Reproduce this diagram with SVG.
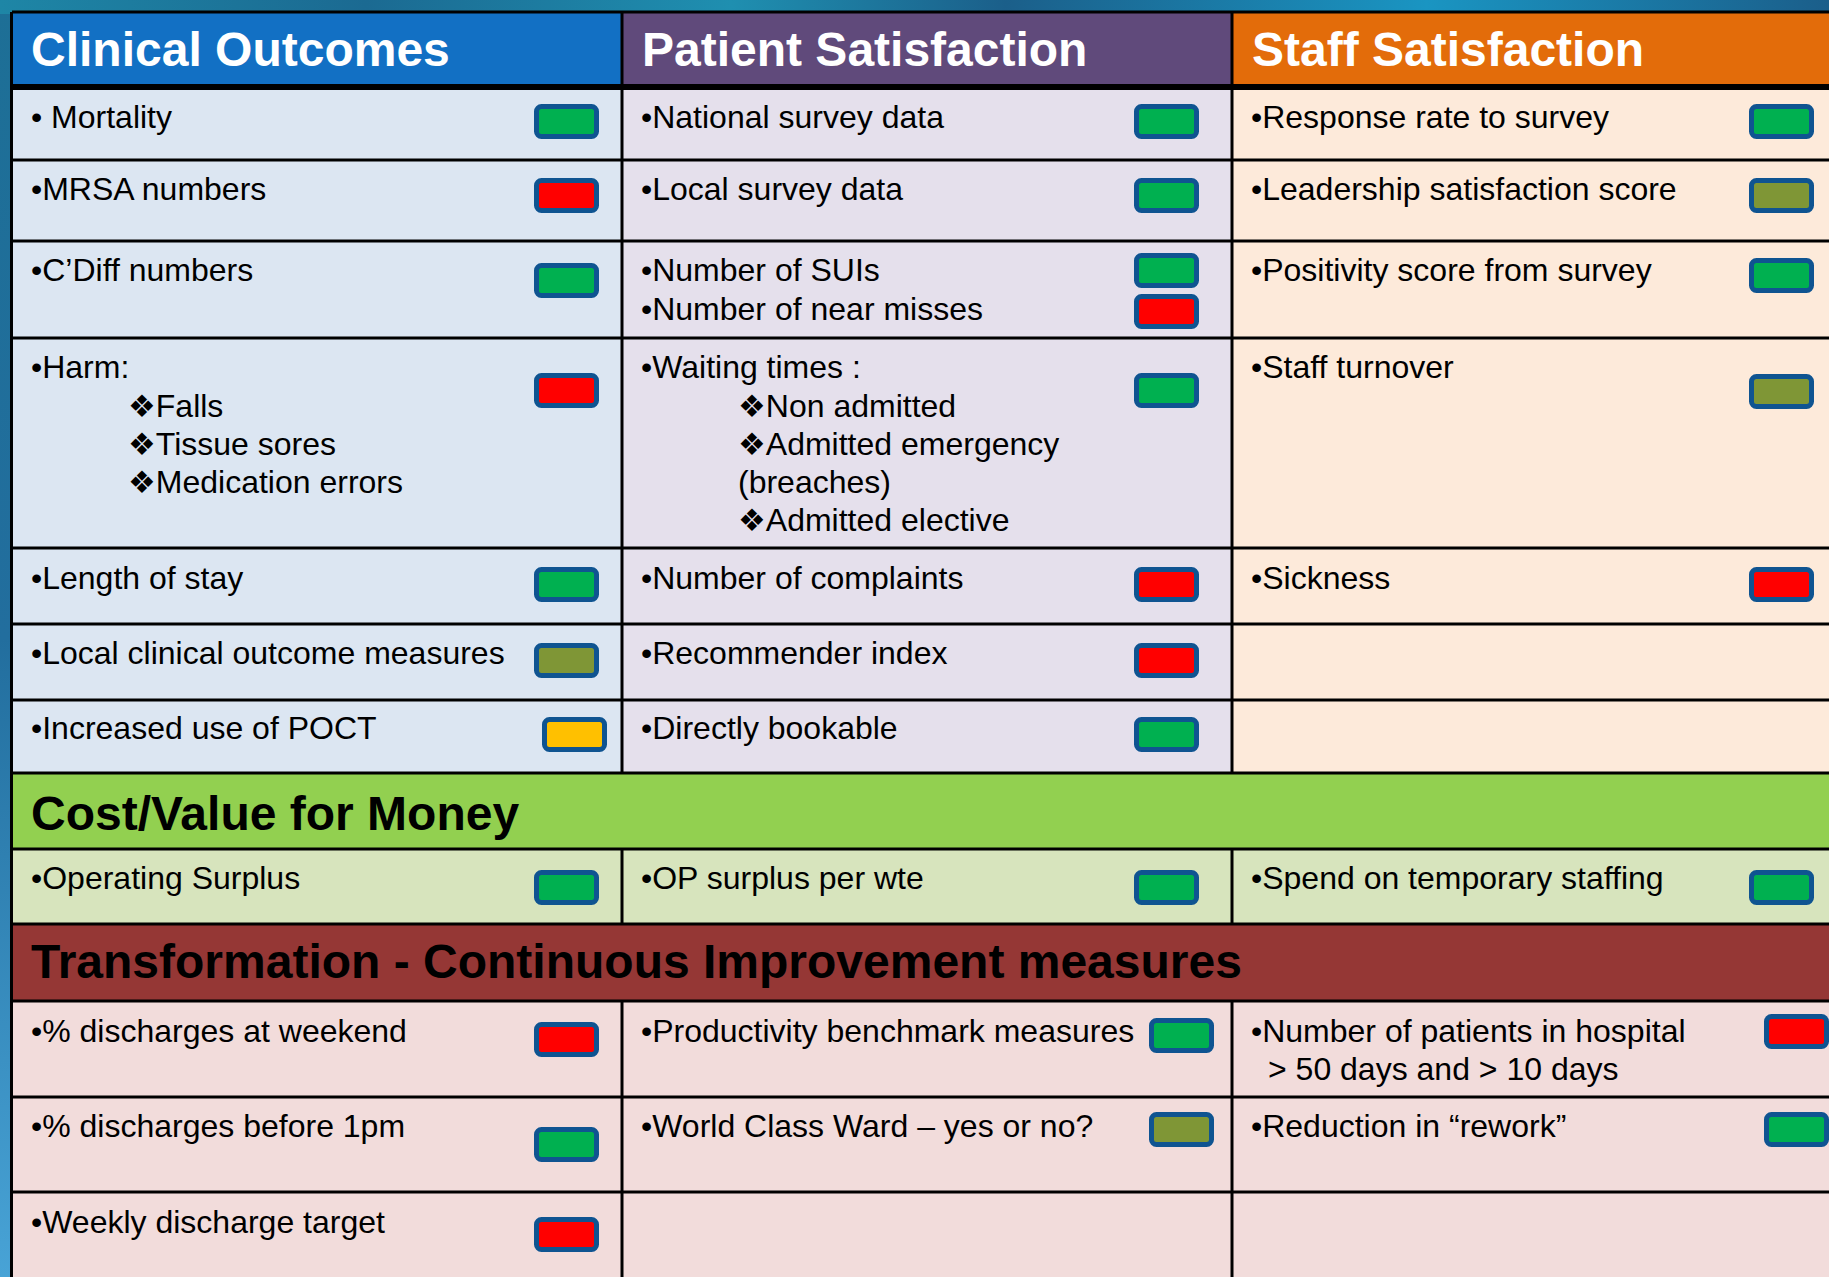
<svg xmlns="http://www.w3.org/2000/svg" width="1829" height="1277" viewBox="0 0 1829 1277">
  <defs>
    <linearGradient id="bgTop" x1="0" y1="0" x2="1" y2="0">
      <stop offset="0" stop-color="#1e86a6"/>
      <stop offset="0.2" stop-color="#1b6a92"/>
      <stop offset="0.4" stop-color="#1f8fb0"/>
      <stop offset="0.55" stop-color="#1b5f8a"/>
      <stop offset="0.78" stop-color="#1a95c2"/>
      <stop offset="1" stop-color="#1b5e8a"/>
    </linearGradient>
    <linearGradient id="bgLeft" x1="0" y1="0" x2="0" y2="1">
      <stop offset="0" stop-color="#1d6f96"/>
      <stop offset="0.5" stop-color="#226e9e"/>
      <stop offset="1" stop-color="#48a3d6"/>
    </linearGradient>
    <style>
      .t { font-family: "Liberation Sans", Arial, sans-serif; font-size: 32px; fill: #000; }
      .h { font-family: "Liberation Sans", Arial, sans-serif; font-size: 48px; font-weight: bold; }
      .hw { fill: #ffffff; }
      .hb { fill: #000000; }
      .sym { font-family: "DejaVu Sans", sans-serif; font-size: 31px; }
      .ind { stroke: #0F5491; stroke-width: 5; }
      .g { fill: #00B050; }
      .r { fill: #FF0000; }
      .o { fill: #7F9636; }
      .y { fill: #FFC000; }
      .c1 { fill: #DCE6F2; }
      .c2 { fill: #E5E0EC; }
      .c3 { fill: #FDEADA; }
      .cv { fill: #D7E4BD; }
      .tr { fill: #F2DCDB; }
      .ln { stroke: #000; stroke-width: 3; fill: none; }
    </style>
  </defs>

  <!-- background -->
  <rect x="0" y="0" width="1829" height="1277" fill="url(#bgLeft)"/>
  <rect x="0" y="0" width="1829" height="14" fill="url(#bgTop)"/>

  <!-- header row -->
  <g id="hdr-clinical">
    <rect x="12" y="12" width="610" height="75" fill="#1270C4"/>
    <text class="h hw" x="31" y="66">Clinical Outcomes</text>
  </g>
  <g id="hdr-patient">
    <rect x="622" y="12" width="610" height="75" fill="#604A7B"/>
    <text class="h hw" x="642" y="66">Patient Satisfaction</text>
  </g>
  <g id="hdr-staff">
    <rect x="1232" y="12" width="597" height="75" fill="#E36C0A"/>
    <text class="h hw" x="1252" y="66">Staff Satisfaction</text>
  </g>

  <!-- Clinical outcomes column -->
  <g id="c1r1">
    <rect class="c1" x="12" y="87" width="610" height="73"/>
    <text class="t" x="31" y="128">• Mortality</text>
    <rect class="ind g" x="536.5" y="106.5" width="60" height="30" rx="5"/>
  </g>
  <g id="c1r2">
    <rect class="c1" x="12" y="160" width="610" height="81"/>
    <text class="t" x="31" y="200">•MRSA numbers</text>
    <rect class="ind r" x="536.5" y="180.5" width="60" height="30" rx="5"/>
  </g>
  <g id="c1r3">
    <rect class="c1" x="12" y="241" width="610" height="97"/>
    <text class="t" x="31" y="281">•C’Diff numbers</text>
    <rect class="ind g" x="536.5" y="265.5" width="60" height="30" rx="5"/>
  </g>
  <g id="c1r4">
    <rect class="c1" x="12" y="338" width="610" height="210"/>
    <text class="t" x="31" y="378">•Harm:</text>
    <text class="t" x="128" y="417"><tspan class="sym">❖</tspan>Falls</text>
    <text class="t" x="128" y="455"><tspan class="sym">❖</tspan>Tissue sores</text>
    <text class="t" x="128" y="493"><tspan class="sym">❖</tspan>Medication errors</text>
    <rect class="ind r" x="536.5" y="375.5" width="60" height="30" rx="5"/>
  </g>
  <g id="c1r5">
    <rect class="c1" x="12" y="548" width="610" height="76"/>
    <text class="t" x="31" y="589">•Length of stay</text>
    <rect class="ind g" x="536.5" y="569.5" width="60" height="30" rx="5"/>
  </g>
  <g id="c1r6">
    <rect class="c1" x="12" y="624" width="610" height="76"/>
    <text class="t" x="31" y="664">•Local clinical outcome measures</text>
    <rect class="ind o" x="536.5" y="645.5" width="60" height="30" rx="5"/>
  </g>
  <g id="c1r7">
    <rect class="c1" x="12" y="700" width="610" height="73"/>
    <text class="t" x="31" y="739">•Increased use of POCT</text>
    <rect class="ind y" x="544.5" y="719.5" width="60" height="30" rx="5"/>
  </g>

  <!-- Patient satisfaction column -->
  <g id="c2r1">
    <rect class="c2" x="622" y="87" width="610" height="73"/>
    <text class="t" x="641" y="128">•National survey data</text>
    <rect class="ind g" x="1136.5" y="106.5" width="60" height="30" rx="5"/>
  </g>
  <g id="c2r2">
    <rect class="c2" x="622" y="160" width="610" height="81"/>
    <text class="t" x="641" y="200">•Local survey data</text>
    <rect class="ind g" x="1136.5" y="180.5" width="60" height="30" rx="5"/>
  </g>
  <g id="c2r3">
    <rect class="c2" x="622" y="241" width="610" height="97"/>
    <text class="t" x="641" y="281">•Number of SUIs</text>
    <text class="t" x="641" y="320">•Number of near misses</text>
    <rect class="ind g" x="1136.5" y="255.5" width="60" height="30" rx="5"/>
    <rect class="ind r" x="1136.5" y="296.5" width="60" height="30" rx="5"/>
  </g>
  <g id="c2r4">
    <rect class="c2" x="622" y="338" width="610" height="210"/>
    <text class="t" x="641" y="378">•Waiting times :</text>
    <text class="t" x="738" y="417"><tspan class="sym">❖</tspan>Non admitted</text>
    <text class="t" x="738" y="455"><tspan class="sym">❖</tspan>Admitted emergency</text>
    <text class="t" x="738" y="493">(breaches)</text>
    <text class="t" x="738" y="531"><tspan class="sym">❖</tspan>Admitted elective</text>
    <rect class="ind g" x="1136.5" y="375.5" width="60" height="30" rx="5"/>
  </g>
  <g id="c2r5">
    <rect class="c2" x="622" y="548" width="610" height="76"/>
    <text class="t" x="641" y="589">•Number of complaints</text>
    <rect class="ind r" x="1136.5" y="569.5" width="60" height="30" rx="5"/>
  </g>
  <g id="c2r6">
    <rect class="c2" x="622" y="624" width="610" height="76"/>
    <text class="t" x="641" y="664">•Recommender index</text>
    <rect class="ind r" x="1136.5" y="645.5" width="60" height="30" rx="5"/>
  </g>
  <g id="c2r7">
    <rect class="c2" x="622" y="700" width="610" height="73"/>
    <text class="t" x="641" y="739">•Directly bookable</text>
    <rect class="ind g" x="1136.5" y="719.5" width="60" height="30" rx="5"/>
  </g>

  <!-- Staff satisfaction column -->
  <g id="c3r1">
    <rect class="c3" x="1232" y="87" width="597" height="73"/>
    <text class="t" x="1251" y="128">•Response rate to survey</text>
    <rect class="ind g" x="1751.5" y="106.5" width="60" height="30" rx="5"/>
  </g>
  <g id="c3r2">
    <rect class="c3" x="1232" y="160" width="597" height="81"/>
    <text class="t" x="1251" y="200">•Leadership satisfaction score</text>
    <rect class="ind o" x="1751.5" y="180.5" width="60" height="30" rx="5"/>
  </g>
  <g id="c3r3">
    <rect class="c3" x="1232" y="241" width="597" height="97"/>
    <text class="t" x="1251" y="281">•Positivity score from survey</text>
    <rect class="ind g" x="1751.5" y="260.5" width="60" height="30" rx="5"/>
  </g>
  <g id="c3r4">
    <rect class="c3" x="1232" y="338" width="597" height="210"/>
    <text class="t" x="1251" y="378">•Staff turnover</text>
    <rect class="ind o" x="1751.5" y="376.5" width="60" height="30" rx="5"/>
  </g>
  <g id="c3r5">
    <rect class="c3" x="1232" y="548" width="597" height="76"/>
    <text class="t" x="1251" y="589">•Sickness</text>
    <rect class="ind r" x="1751.5" y="569.5" width="60" height="30" rx="5"/>
  </g>
  <g id="c3r6">
    <rect class="c3" x="1232" y="624" width="597" height="76"/>
  </g>
  <g id="c3r7">
    <rect class="c3" x="1232" y="700" width="597" height="73"/>
  </g>

  <!-- Cost / Value for Money -->
  <g id="hdr-cost">
    <rect x="12" y="773" width="1817" height="76" fill="#92D050"/>
    <text class="h hb" x="31" y="830">Cost/Value for Money</text>
  </g>
  <g id="cost1">
    <rect class="cv" x="12" y="849" width="610" height="75"/>
    <text class="t" x="31" y="889">•Operating Surplus</text>
    <rect class="ind g" x="536.5" y="872.5" width="60" height="30" rx="5"/>
  </g>
  <g id="cost2">
    <rect class="cv" x="622" y="849" width="610" height="75"/>
    <text class="t" x="641" y="889">•OP surplus per wte</text>
    <rect class="ind g" x="1136.5" y="872.5" width="60" height="30" rx="5"/>
  </g>
  <g id="cost3">
    <rect class="cv" x="1232" y="849" width="597" height="75"/>
    <text class="t" x="1251" y="889">•Spend on temporary staffing</text>
    <rect class="ind g" x="1751.5" y="872.5" width="60" height="30" rx="5"/>
  </g>

  <!-- Transformation -->
  <g id="hdr-transformation">
    <rect x="12" y="924" width="1817" height="77" fill="#953735"/>
    <text class="h hb" x="31" y="978">Transformation - Continuous Improvement measures</text>
  </g>
  <g id="t1c1">
    <rect class="tr" x="12" y="1001" width="610" height="96"/>
    <text class="t" x="31" y="1042">•% discharges at weekend</text>
    <rect class="ind r" x="536.5" y="1024.5" width="60" height="30" rx="5"/>
  </g>
  <g id="t1c2">
    <rect class="tr" x="622" y="1001" width="610" height="96"/>
    <text class="t" x="641" y="1042">•Productivity benchmark measures</text>
    <rect class="ind g" x="1151.5" y="1020.5" width="60" height="30" rx="5"/>
  </g>
  <g id="t1c3">
    <rect class="tr" x="1232" y="1001" width="597" height="96"/>
    <text class="t" x="1251" y="1042">•Number of patients in hospital</text>
    <text class="t" x="1268" y="1080">&gt; 50 days and &gt; 10 days</text>
    <rect class="ind r" x="1766.5" y="1016.5" width="60" height="30" rx="5"/>
  </g>
  <g id="t2c1">
    <rect class="tr" x="12" y="1097" width="610" height="95"/>
    <text class="t" x="31" y="1137">•% discharges before 1pm</text>
    <rect class="ind g" x="536.5" y="1129.5" width="60" height="30" rx="5"/>
  </g>
  <g id="t2c2">
    <rect class="tr" x="622" y="1097" width="610" height="95"/>
    <text class="t" x="641" y="1137">•World Class Ward – yes or no?</text>
    <rect class="ind o" x="1151.5" y="1114.5" width="60" height="30" rx="5"/>
  </g>
  <g id="t2c3">
    <rect class="tr" x="1232" y="1097" width="597" height="95"/>
    <text class="t" x="1251" y="1137">•Reduction in “rework”</text>
    <rect class="ind g" x="1766.5" y="1114.5" width="60" height="30" rx="5"/>
  </g>
  <g id="t3c1">
    <rect class="tr" x="12" y="1192" width="610" height="85"/>
    <text class="t" x="31" y="1233">•Weekly discharge target</text>
    <rect class="ind r" x="536.5" y="1219.5" width="60" height="30" rx="5"/>
  </g>
  <g id="t3c2">
    <rect class="tr" x="622" y="1192" width="610" height="85"/>
  </g>
  <g id="t3c3">
    <rect class="tr" x="1232" y="1192" width="597" height="85"/>
  </g>

  <!-- grid lines -->
  <g id="connectors">
    <rect x="12" y="84" width="1817" height="6" fill="#000"/>
    <path class="ln" d="M12 12 H1829 M11.5 12 V1277"/>
    <path class="ln" d="M12 160 H1829 M12 241 H1829 M12 338 H1829 M12 548 H1829 M12 624 H1829 M12 700 H1829 M12 773 H1829 M12 849 H1829 M12 924 H1829 M12 1001 H1829 M12 1097 H1829 M12 1192 H1829"/>
    <path class="ln" d="M622 12 V773 M1232 12 V773 M622 849 V924 M1232 849 V924 M622 1001 V1277 M1232 1001 V1277"/>
  </g>
</svg>
